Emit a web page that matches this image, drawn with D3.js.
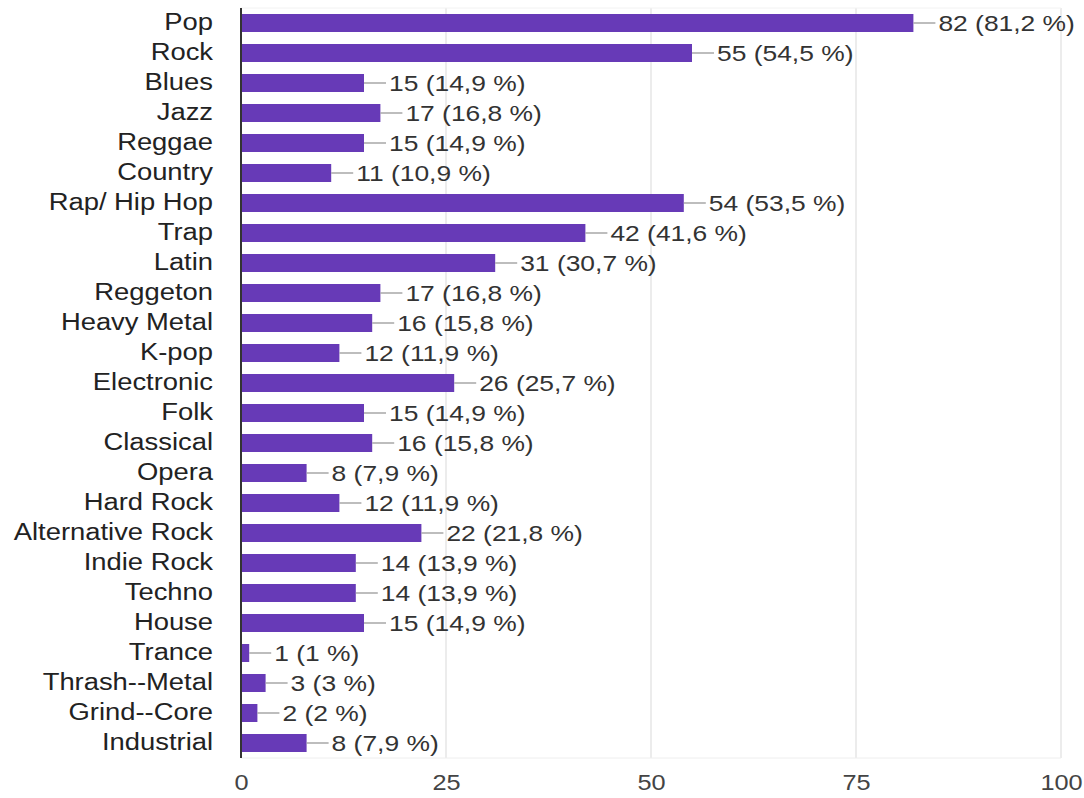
<!DOCTYPE html>
<html><head><meta charset="utf-8">
<script src="https://d3js.org/d3.v7.min.js"></script>
<style>body{margin:0;background:#fff;} text{font-family:"Liberation Sans",Arial,sans-serif;}</style>
</head><body>
<svg id="c" width="1084" height="798"></svg>
<script>
const categories = ["Pop","Rock","Blues","Jazz","Reggae","Country","Rap/ Hip Hop","Trap","Latin","Reggeton","Heavy Metal","K-pop","Electronic","Folk","Classical","Opera","Hard Rock","Alternative Rock","Indie Rock","Techno","House","Trance","Thrash--Metal","Grind--Core","Industrial"];
const counts = [82,55,15,17,15,11,54,42,31,17,16,12,26,15,16,8,12,22,14,14,15,1,3,2,8];
const percents = ["81,2","54,5","14,9","16,8","14,9","10,9","53,5","41,6","30,7","16,8","15,8","11,9","25,7","14,9","15,8","7,9","11,9","21,8","13,9","13,9","14,9","1","3","2","7,9"];
const ticks = [0,25,50,75,100];

const svg = d3.select("#c");
const x = d3.scaleLinear().domain([0,100]).range([241,1061]);
const y = d3.scaleBand().domain(categories).range([8,758]).paddingInner(0.4).paddingOuter(0.2);

// gridlines
svg.append("g").selectAll("line").data(ticks.slice(1)).join("line")
  .attr("x1",d=>x(d)).attr("x2",d=>x(d)).attr("y1",8).attr("y2",758)
  .attr("stroke","#e6e6e6").attr("stroke-width",1.5);
svg.append("line").attr("x1",241).attr("x2",1061).attr("y1",758).attr("y2",758).attr("stroke","#eeeeee");
svg.append("line").attr("x1",241).attr("x2",1061).attr("y1",8).attr("y2",8).attr("stroke","#f2f2f2");

// bars
svg.append("g").selectAll("rect").data(categories).join("rect")
  .attr("x",x(0)).attr("y",d=>y(d)).attr("height",y.bandwidth())
  .attr("width",(d,i)=>x(counts[i])-x(0)).attr("fill","#673ab7");

// leader lines and labels
const g = svg.append("g");
categories.forEach((c,i)=>{
  const cy = y(c)+y.bandwidth()/2;
  const xe = x(counts[i]);
  g.append("line").attr("x1",xe).attr("x2",xe+22).attr("y1",cy).attr("y2",cy).attr("stroke","#999").attr("stroke-width",1.3);
  g.append("text").attr("data-s",1.2).attr("x",xe+25).attr("y",cy).attr("dy","0.36em").attr("font-size",22).attr("fill","#333")
    .text(counts[i]+" ("+percents[i]+" %)");
});

// axis
const yAxis = d3.axisLeft(y).tickSize(0).tickPadding(28);
const ga = svg.append("g").attr("transform","translate(241,0)").call(yAxis);
ga.select(".domain").remove();
ga.selectAll("text").attr("data-s",1.19).attr("font-size",23).attr("fill","#222").attr("font-family","'Liberation Sans',Arial,sans-serif");
svg.append("line").attr("x1",241).attr("x2",241).attr("y1",8).attr("y2",758).attr("stroke","#333").attr("stroke-width",2);

const xAxis = d3.axisBottom(x).tickValues(ticks).tickSize(0).tickPadding(8);
const gx = svg.append("g").attr("transform","translate(0,766)").call(xAxis);
gx.select(".domain").remove();
gx.selectAll("text").attr("data-s",1.15).attr("font-size",22).attr("fill","#444").attr("font-family","'Liberation Sans',Arial,sans-serif");

// horizontal stretch to match the reference glyph widths
svg.selectAll("text[data-s]").each(function(){
  const w = this.getComputedTextLength();
  this.setAttribute("textLength", w*(+this.getAttribute("data-s")));
  this.setAttribute("lengthAdjust","spacingAndGlyphs");
});
</script>
</body></html>
